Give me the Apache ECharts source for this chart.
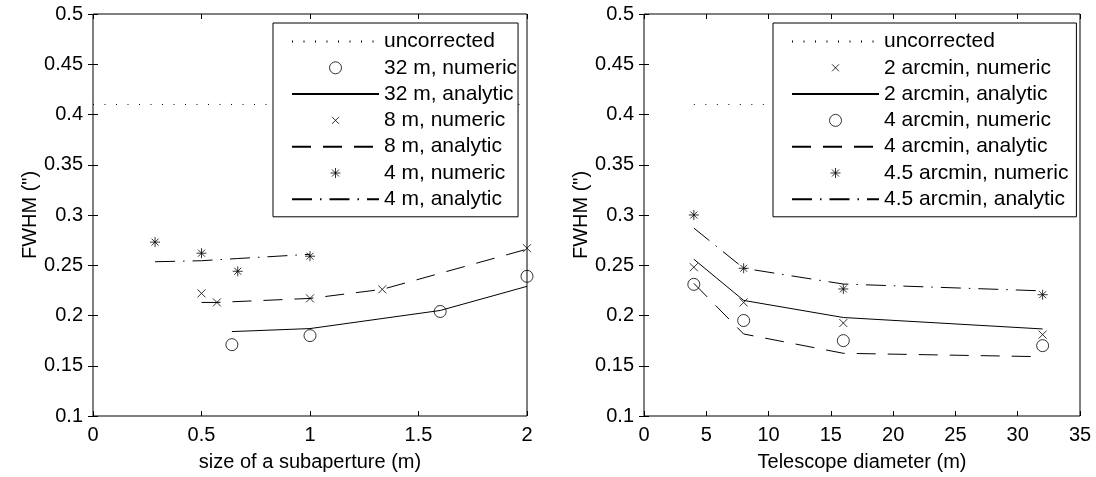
<!DOCTYPE html>
<html>
<head>
<meta charset="utf-8">
<script src="https://cdn.jsdelivr.net/npm/echarts@6/dist/echarts.min.js"></script>
<style>
  html, body { margin: 0; padding: 0; background: #fff; }
  #main { width: 1096px; height: 477px; }
</style>
</head>
<body>
<div id="main"></div>
<script>
// left plot: FWHM vs size of a subaperture
var uncorrX1 = [0, 2];
var uncorrY1 = [0.41, 0.41];
var sub32 = [0.64, 1.0, 1.6, 2.0];
var num32 = [0.171, 0.180, 0.204, 0.239];
var ana32 = [0.184, 0.187, 0.205, 0.229];
var sub8 = [0.5, 0.571, 1.0, 1.333, 2.0];
var num8 = [0.222, 0.213, 0.217, 0.226, 0.267];
var ana8 = [0.213, 0.213, 0.217, 0.226, 0.266];
var sub4 = [0.286, 0.5, 0.667, 1.0];
var num4 = [0.273, 0.262, 0.244, 0.259];
var ana4 = [0.2535, 0.2545, 0.2567, 0.2609];

// right plot: FWHM vs telescope diameter
var uncorrX2 = [4, 32];
var uncorrY2 = [0.41, 0.41];
var diam = [4, 8, 16, 32];
var num2am = [0.248, 0.213, 0.1925, 0.181];
var ana2am = [0.256, 0.215, 0.198, 0.1866];
var num4am = [0.231, 0.195, 0.175, 0.170];
var ana4am = [0.232, 0.1816, 0.1624, 0.159];
var num45am = [0.300, 0.247, 0.2264, 0.2207];
var ana45am = [0.287, 0.247, 0.2313, 0.2245];

var legendLeft = ['uncorrected', '32 m, numeric', '32 m, analytic', '8 m, numeric', '8 m, analytic', '4 m, numeric', '4 m, analytic'];
var legendRight = ['uncorrected', '2 arcmin, numeric', '2 arcmin, analytic', '4 arcmin, numeric', '4 arcmin, analytic', '4.5 arcmin, numeric', '4.5 arcmin, analytic'];

var FONT = 'Liberation Sans';
var xMark = 'path://M0,0L10,10M10,0L0,10';
var starMark = 'path://M5,0L5,10M0,5L10,5M1.5,1.5L8.5,8.5M8.5,1.5L1.5,8.5';
// same marks with empty room round them, so the legend draws them smaller
var xMarkLeg = 'path://M0,0M12,12M2.5,2.5L9.5,9.5M9.5,2.5L2.5,9.5';
var starMarkLeg = 'path://M0,0M12,12M6,1L6,11M1,6L11,6M2.5,2.5L9.5,9.5M9.5,2.5L2.5,9.5';

function pairs(xs, ys) {
    var out = [];
    for (var i = 0; i < xs.length; i++) out.push([xs[i], ys[i]]);
    return out;
}

function lineSeries(name, xs, ys, dash, ax) {
    return {
        name: name, type: 'line', xAxisIndex: ax, yAxisIndex: ax,
        data: pairs(xs, ys), symbol: 'none', showSymbol: false,
        lineStyle: { color: '#000', width: 1, type: dash },
        itemStyle: { color: '#000' },
        silent: true, z: 3
    };
}

function markSeries(name, xs, ys, symbol, size, ax) {
    return {
        name: name, type: 'scatter', xAxisIndex: ax, yAxisIndex: ax,
        data: pairs(xs, ys), symbol: symbol, symbolSize: size,
        itemStyle: { color: 'rgba(0,0,0,0)', borderColor: '#000', borderWidth: 1 },
        silent: true, z: 3
    };
}

function xAx(grid, min, max, step, pos, name) {
    return {
        type: 'value', gridIndex: grid, position: pos, min: min, max: max, interval: step,
        name: name, nameLocation: 'middle', nameGap: 36,
        nameTextStyle: { color: '#000', fontSize: 20, fontFamily: FONT },
        axisLine: { show: false },
        axisTick: { show: true, inside: true, length: 5, lineStyle: { color: '#000' } },
        axisLabel: { show: pos === 'bottom', color: '#000', fontSize: 20, fontFamily: FONT, margin: 9 },
        splitLine: { show: false }
    };
}

function yAx(grid, pos, name) {
    return {
        type: 'value', gridIndex: grid, position: pos, min: 0.1, max: 0.5, interval: 0.05,
        name: name, nameLocation: 'middle', nameGap: 46, nameRotate: 90,
        nameTextStyle: { color: '#000', fontSize: 20, fontFamily: FONT },
        axisLine: { show: false },
        axisTick: { show: true, inside: true, length: 5, lineStyle: { color: '#000' } },
        axisLabel: { show: pos === 'left', color: '#000', fontSize: 20, fontFamily: FONT, margin: 10 },
        splitLine: { show: false }
    };
}

// legend rows: lines get no dot in the middle, marks get the smaller icon
function legendItems(names) {
    return names.map(function (n) {
        if (n.indexOf('numeric') < 0) return { name: n, itemStyle: { opacity: 0 } };
        return { name: n, itemStyle: { color: 'rgba(0,0,0,0)', borderColor: '#000', borderWidth: 1 } };
    });
}

function legendBox(x, names, icons, padRight) {
    var items = legendItems(names);
    for (var i = 0; i < items.length; i++) {
        if (icons[i]) items[i].icon = icons[i];
    }
    return {
        orient: 'vertical', left: x, top: 23, data: items,
        selectedMode: false,
        itemWidth: 87, itemHeight: 12, itemGap: 5.3,
        padding: [8, padRight, 7, 18],
        backgroundColor: '#fff', borderColor: '#000', borderWidth: 1,
        textStyle: { color: '#000', fontSize: 21, fontFamily: FONT, lineHeight: 20 }
    };
}

var dotted = [1, 10.5];
var dashed = [19, 12];
var dashdot = [20, 8, 1.5, 8];

var chart = echarts.init(document.getElementById('main'));
var option = {
    animation: false,
    backgroundColor: '#fff',
    grid: [
        { left: 93, top: 14, width: 434, height: 402, show: true, borderColor: '#000', borderWidth: 1, backgroundColor: 'transparent' },
        { left: 644, top: 14, width: 436, height: 402, show: true, borderColor: '#000', borderWidth: 1, backgroundColor: 'transparent' }
    ],
    xAxis: [
        xAx(0, 0, 2, 0.5, 'bottom', 'size of a subaperture (m)'),
        xAx(0, 0, 2, 0.5, 'top', ''),
        xAx(1, 0, 35, 5, 'bottom', 'Telescope diameter (m)'),
        xAx(1, 0, 35, 5, 'top', '')
    ],
    yAxis: [
        yAx(0, 'left', 'FWHM (")'),
        yAx(0, 'right', ''),
        yAx(1, 'left', 'FWHM (")'),
        yAx(1, 'right', '')
    ],
    legend: [
        legendBox(273, legendLeft, [null, null, null, xMarkLeg, null, starMarkLeg, null], 1),
        legendBox(773, legendRight, [null, xMarkLeg, null, null, null, starMarkLeg, null], 8)
    ],
    series: [
        lineSeries('uncorrected', uncorrX1, uncorrY1, dotted, 0),
        markSeries('32 m, numeric', sub32, num32, 'circle', 12, 0),
        lineSeries('32 m, analytic', sub32, ana32, 'solid', 0),
        markSeries('8 m, numeric', sub8, num8, xMark, 8, 0),
        lineSeries('8 m, analytic', sub8, ana8, dashed, 0),
        markSeries('4 m, numeric', sub4, num4, starMark, 10, 0),
        lineSeries('4 m, analytic', sub4, ana4, dashdot, 0),

        lineSeries('uncorrected', uncorrX2, uncorrY2, dotted, 2),
        markSeries('2 arcmin, numeric', diam, num2am, xMark, 8, 2),
        lineSeries('2 arcmin, analytic', diam, ana2am, 'solid', 2),
        markSeries('4 arcmin, numeric', diam, num4am, 'circle', 12, 2),
        lineSeries('4 arcmin, analytic', diam, ana4am, dashed, 2),
        markSeries('4.5 arcmin, numeric', diam, num45am, starMark, 10, 2),
        lineSeries('4.5 arcmin, analytic', diam, ana45am, dashdot, 2)
    ]
};

option && chart.setOption(option);
</script>
</body>
</html>
